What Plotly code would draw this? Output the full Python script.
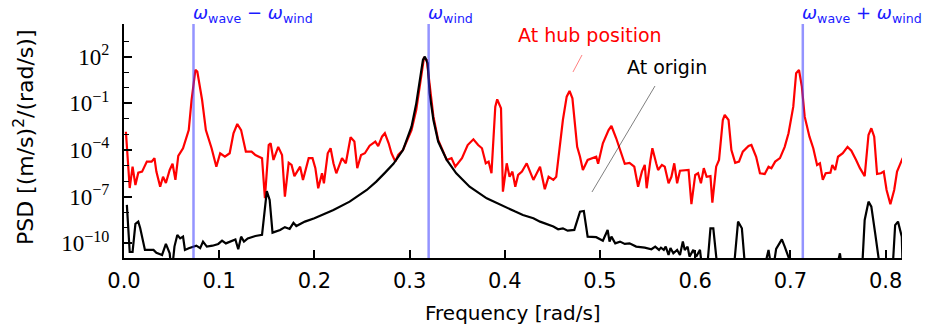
import plotly.graph_objects as go

# ---------------- data ----------------
red_freq = [
    0.002, 0.006, 0.009, 0.012, 0.015, 0.019, 0.024, 0.029, 0.032, 0.034,
    0.038, 0.041, 0.044, 0.048, 0.051, 0.054, 0.057, 0.062, 0.068, 0.071,
    0.075, 0.077, 0.082, 0.086, 0.092, 0.097, 0.101, 0.106, 0.111, 0.115,
    0.119, 0.123, 0.128, 0.134, 0.138, 0.145, 0.148, 0.152, 0.154, 0.157,
    0.162, 0.166, 0.169, 0.173, 0.176, 0.179, 0.185, 0.188, 0.194, 0.198,
    0.201, 0.204, 0.208, 0.210, 0.214, 0.217, 0.220, 0.223, 0.229, 0.233,
    0.238, 0.242, 0.245, 0.249, 0.253, 0.258, 0.264, 0.267, 0.271, 0.274,
    0.278, 0.281, 0.285, 0.288, 0.293, 0.302, 0.307, 0.313, 0.315, 0.318,
    0.321, 0.325, 0.330, 0.335, 0.339, 0.344, 0.348, 0.355, 0.361, 0.367,
    0.372, 0.376, 0.380, 0.383, 0.386, 0.390, 0.392, 0.396, 0.398, 0.402,
    0.405, 0.408, 0.411, 0.414, 0.418, 0.423, 0.426, 0.430, 0.437, 0.442,
    0.446, 0.451, 0.454, 0.458, 0.461, 0.465, 0.468, 0.471, 0.476, 0.479,
    0.482, 0.487, 0.491, 0.496, 0.498, 0.503, 0.509, 0.512, 0.517, 0.523,
    0.526, 0.531, 0.536, 0.540, 0.544, 0.547, 0.549, 0.553, 0.555, 0.559,
    0.561, 0.565, 0.568, 0.572, 0.575, 0.578, 0.581, 0.584, 0.589, 0.593,
    0.596, 0.600, 0.603, 0.606, 0.609, 0.612, 0.616, 0.618, 0.622, 0.625,
    0.629, 0.631, 0.635, 0.638, 0.642, 0.646, 0.650, 0.656, 0.659, 0.664,
    0.668, 0.673, 0.677, 0.680, 0.684, 0.689, 0.694, 0.698, 0.703, 0.706,
    0.709, 0.712, 0.715, 0.720, 0.724, 0.728, 0.731, 0.734, 0.737, 0.742,
    0.744, 0.747, 0.750, 0.755, 0.760, 0.764, 0.769, 0.773, 0.778, 0.782,
    0.785, 0.788, 0.791, 0.795, 0.798, 0.801, 0.805, 0.809, 0.812, 0.816, 0.818,
]
red_psd = [
    1.5e-3, 3.6e-7, 8.5e-6, 5.6e-7, 3.5e-6, 4.1e-6, 1.8e-5, 1.8e-5, 3.0e-5, 4.1e-6,
    4.4e-7, 1.9e-6, 7.6e-7, 5.2e-6, 1.3e-5, 1.2e-6, 4.2e-5, 1.3e-4, 1.9e-3, 0.17,
    14, 11, 0.17, 1.9e-3, 1.3e-4, 8.5e-6, 6.2e-5, 3.7e-5, 6.2e-5, 1.2e-3,
    4.7e-3, 1.9e-3, 7.8e-5, 7.8e-5, 4.8e-5, 3.0e-5, 7.9e-8, 2.1e-4, 2.7e-4, 2.3e-5,
    1.6e-4, 4.8e-5, 1.0e-7, 1.5e-5, 1.1e-5, 2.1e-6, 8.5e-6, 1.2e-6, 3.0e-5, 3.0e-5,
    6.8e-6, 3.5e-7, 3.2e-6, 7.3e-7, 6.2e-5, 1.3e-4, 1.4e-5, 3.2e-6, 3.0e-5, 1.4e-5,
    6.6e-4, 3.5e-4, 6.8e-6, 4.8e-5, 6.2e-5, 1.9e-4, 3.5e-4, 1.8e-4, 7.2e-4, 1.2e-3,
    2.7e-4, 6.2e-5, 1.8e-5, 4.8e-5, 1.0e-4, 1.9e-3, 3.8e-2, 14, 79, 62,
    1.2, 1.4e-2, 4.4e-4, 7.8e-5, 2.3e-5, 3.0e-5, 8.5e-6, 3.0e-5, 2.1e-4, 4.9e-4,
    2.1e-4, 1.3e-4, 1.4e-5, 1.8e-5, 3.2e-6, 6.1e-2, 0.18, 4.8e-2, 2.1e-7, 1.4e-5,
    1.9e-6, 4.1e-6, 4.4e-7, 2.5e-6, 4.1e-6, 1.4e-5, 5.2e-6, 1.2e-6, 8.5e-6, 3.0e-7,
    1.9e-6, 1.2e-6, 1.9e-6, 1.6e-4, 8.5e-3, 0.27, 0.63, 0.21, 1.6e-4, 3.7e-5,
    5.2e-6, 2.3e-5, 3.0e-5, 3.7e-5, 1.3e-5, 2.7e-4, 1.9e-3, 3.5e-3, 5.7e-4, 4.8e-5,
    1.3e-5, 1.5e-5, 8.5e-6, 4.4e-7, 4.1e-6, 1.1e-5, 3.5e-7, 2.3e-5, 1.3e-4, 1.4e-5,
    5.2e-6, 1.1e-5, 8.5e-6, 7.3e-7, 1.9e-6, 1.4e-5, 7.3e-7, 4.7e-6, 5.2e-6, 5.2e-6,
    3.3e-8, 2.5e-6, 3.2e-6, 7.3e-7, 6.8e-6, 1.9e-6, 2.1e-6, 4.2e-8, 8.5e-6, 2.3e-5,
    8.5e-3, 1.8e-2, 8.5e-3, 1.0e-4, 1.5e-5, 1.8e-5, 7.8e-5, 1.8e-4, 2.1e-4, 3.7e-5,
    3.2e-6, 2.9e-6, 8.5e-6, 6.8e-6, 1.8e-5, 3.0e-5, 1.6e-4, 1.2e-3, 6.1e-2, 8.6,
    14, 1.2, 1.4e-2, 7.2e-4, 1.3e-4, 1.1e-5, 1.4e-5, 1.2e-6, 3.2e-6, 3.5e-6,
    1.1e-5, 5.2e-6, 3.7e-5, 6.2e-5, 1.6e-4, 9.1e-5, 2.3e-5, 6.8e-6, 2.1e-6, 9.3e-4,
    2.5e-3, 7.2e-4, 2.9e-6, 3.2e-6, 4.1e-6, 2.7e-7, 3.3e-8, 2.7e-7, 4.1e-6, 1.4e-5, 3.1e-5,
]

black_freq = [
    0.003, 0.006, 0.009, 0.012, 0.015, 0.017, 0.022, 0.031, 0.034, 0.036,
    0.040, 0.044, 0.048, 0.050, 0.053, 0.056, 0.059, 0.062, 0.064, 0.068,
    0.072, 0.076, 0.080, 0.083, 0.087, 0.093, 0.099, 0.103, 0.107, 0.111,
    0.117, 0.120, 0.123, 0.126, 0.130, 0.138, 0.145, 0.150, 0.153, 0.156,
    0.164, 0.169, 0.174, 0.178, 0.181, 0.190, 0.200, 0.220, 0.237, 0.255,
    0.265, 0.274, 0.283, 0.293, 0.302, 0.307, 0.311, 0.314, 0.316, 0.319,
    0.321, 0.325, 0.330, 0.339, 0.349, 0.363, 0.381, 0.395, 0.411, 0.419,
    0.430, 0.437, 0.444, 0.451, 0.456, 0.461, 0.466, 0.473, 0.479, 0.483,
    0.487, 0.496, 0.503, 0.508, 0.510, 0.512, 0.516, 0.521, 0.526, 0.531,
    0.538, 0.547, 0.554, 0.558, 0.562, 0.564, 0.567, 0.569, 0.572, 0.574,
    0.577, 0.581, 0.584, 0.587, 0.589, 0.592, 0.594, 0.598, 0.601, 0.605,
    0.608, 0.612, 0.616, 0.619, 0.624, 0.635, 0.640, 0.645, 0.649, 0.653,
    0.663, 0.671, 0.677, 0.681, 0.685, 0.691, 0.694, 0.698, 0.701, 0.747,
    0.752, 0.755, 0.775, 0.778, 0.782, 0.785, 0.789, 0.792, 0.795, 0.801,
    0.807, 0.810, 0.813, 0.817, 0.818,
]
black_psd = [
    3.0e-8, 2.8e-11, 2.8e-11, 1.8e-9, 2.5e-9, 9.8e-10, 3.8e-11, 3.8e-11, 2.5e-11, 2.3e-11,
    1.8e-11, 9.2e-11, 2.3e-11, 1e-12, 6.2e-11, 3.5e-10, 2.1e-10, 2.7e-10, 3.8e-11, 4.9e-11,
    6.2e-11, 7.1e-11, 4.9e-11, 1.3e-10, 6.2e-11, 7.1e-11, 9.2e-11, 1.5e-10, 1.0e-10, 1.3e-10,
    1.8e-10, 4.2e-11, 2.7e-10, 1.3e-10, 2.1e-10, 3.0e-10, 3.5e-10, 2.3e-7, 6.2e-8, 4.9e-10,
    7.3e-10, 1.1e-9, 8.5e-10, 2.1e-9, 1.3e-9, 2.5e-9, 4.1e-9, 1.4e-8, 4.8e-8, 2.7e-7,
    9.3e-7, 3.4e-6, 1.3e-5, 1.0e-4, 3.2e-3, 0.10, 5.2, 62, 100, 38,
    0.45, 8.5e-3, 3.5e-4, 2.3e-5, 3.2e-6, 4.4e-7, 7.9e-8, 3.0e-8, 1.1e-8, 6.7e-9,
    4.1e-9, 2.5e-9, 1.8e-9, 1.2e-9, 8.1e-10, 9.3e-10, 6.6e-10, 7.3e-10, 1.1e-8, 1.2e-8,
    2.7e-10, 2.5e-10, 1.5e-10, 7.3e-10, 1.3e-10, 2.7e-10, 1.0e-10, 1.3e-10, 9.2e-11, 1.0e-10,
    6.2e-11, 5.3e-11, 4.2e-11, 6.2e-11, 3.8e-11, 5.3e-11, 3.8e-11, 6.2e-11, 1.8e-11, 5.0e-11,
    2.3e-11, 3.8e-11, 1.8e-11, 1.3e-10, 3.8e-11, 6.2e-11, 1.4e-11, 3.8e-11, 1.4e-11, 3.8e-11,
    1e-12, 1e-12, 9.3e-10, 9.3e-10, 1e-12, 1e-12, 1e-12, 2.5e-9, 9.3e-10, 1e-12,
    1e-12, 1e-12, 3.8e-11, 1e-12, 4.4e-11, 1.8e-10, 6.2e-11, 1.3e-11, 1e-12, 1e-12,
    2.3e-11, 1e-12, 1e-12, 3.2e-9, 4.8e-8, 2.3e-8, 4.5e-10, 2.3e-11, 1e-12, 1e-12,
    1e-12, 1.5e-9, 2.5e-9, 2.7e-10, 1e-12,
]

omega_lines = [0.073, 0.320, 0.713]
omega_labels = ["<i>ω</i><sub>wave</sub> − <i>ω</i><sub>wind</sub>", "<i>ω</i><sub>wind</sub>",
                "<i>ω</i><sub>wave</sub> + <i>ω</i><sub>wind</sub>"]

x_ticks = [0.0, 0.1, 0.2, 0.3, 0.4, 0.5, 0.6, 0.7, 0.8]
y_major = [1e2, 1e-1, 1e-4, 1e-7, 1e-10]
y_major_text = ["10<sup>2</sup>", "10<sup>−1</sup>", "10<sup>−4</sup>",
                "10<sup>−7</sup>", "10<sup>−10</sup>"]
y_minor = [1e3, 1e1, 1e0, 1e-2, 1e-3, 1e-5, 1e-6, 1e-8, 1e-9]

# ---------------- figure ----------------
SANS = "DejaVu Sans"
SERIF = "Liberation Serif"

fig = go.Figure()
fig.add_trace(go.Scatter(x=red_freq, y=red_psd, mode="lines",
                         line=dict(color="#ff0000", width=2.2), name="At hub position",
                         showlegend=False))
fig.add_trace(go.Scatter(x=black_freq, y=black_psd, mode="lines",
                         line=dict(color="#000000", width=2.2), name="At origin",
                         showlegend=False))

for xv, lab in zip(omega_lines, omega_labels):
    fig.add_shape(type="line", xref="x", yref="paper", x0=xv, x1=xv, y0=0, y1=1,
                  line=dict(color="rgba(60,60,255,0.55)", width=2.5), layer="above")
    fig.add_annotation(xref="x", yref="paper", x=xv, y=1.0, text=lab,
                       showarrow=False, xanchor="left", yanchor="bottom",
                       xshift=-3, yshift=-4,
                       font=dict(family=SANS, size=18, color="#1a1aff"))

# text annotations with pointer lines (paper coordinates)
fig.add_annotation(xref="paper", yref="paper", x=0.599, y=0.953, text="At hub position",
                   showarrow=False, xanchor="center", yanchor="middle",
                   font=dict(family=SANS, size=19, color="#ff0000"))
fig.add_shape(type="line", xref="paper", yref="paper", x0=0.5887, y0=0.8675,
              x1=0.5771, y1=0.795, line=dict(color="rgba(255,0,0,0.5)", width=1))
fig.add_annotation(xref="paper", yref="paper", x=0.698, y=0.816, text="At origin",
                   showarrow=False, xanchor="center", yanchor="middle",
                   font=dict(family=SANS, size=19, color="#000000"))
fig.add_shape(type="line", xref="paper", yref="paper", x0=0.6825, y0=0.735,
              x1=0.6015, y1=0.282, line=dict(color="rgba(0,0,0,0.5)", width=1))

# axis titles
fig.add_annotation(xref="paper", yref="paper", x=0.5, y=-0.235,
                   text="Frequency [rad/s]", showarrow=False,
                   xanchor="center", yanchor="middle",
                   font=dict(family=SANS, size=20, color="black"))
fig.add_annotation(xref="paper", yref="paper", x=-0.1285, y=0.517, textangle=-90,
                   text="PSD [(m/s)<sup>2</sup>/(rad/s)]", showarrow=False,
                   xanchor="center", yanchor="middle",
                   font=dict(family=SANS, size=22, color="black"))

fig.update_layout(
    width=933, height=328,
    margin=dict(l=124, r=31, t=24, b=70),
    paper_bgcolor="white", plot_bgcolor="white",
    showlegend=False,
    xaxis=dict(range=[0, 0.8172], tickvals=x_ticks, tickformat=".1f",
               showline=True, linecolor="black", linewidth=2,
               ticks="inside", ticklen=8, tickwidth=1.5, tickcolor="black",
               showgrid=False, zeroline=False, ticklabelstandoff=3,
               tickfont=dict(family=SANS, size=21, color="black")),
    yaxis=dict(type="log", range=[-10.94, 4.10], tickvals=y_major, ticktext=y_major_text,
               showline=True, linecolor="black", linewidth=2,
               ticks="inside", ticklen=8, tickwidth=1.5, tickcolor="black",
               showgrid=False, zeroline=False, ticklabelstandoff=8,
               minor=dict(tickvals=y_minor, ticks="inside", ticklen=5, tickwidth=1.2,
                          tickcolor="black", showgrid=False),
               tickfont=dict(family=SERIF, size=23, color="black")),
)

fig.write_html("out.html")
